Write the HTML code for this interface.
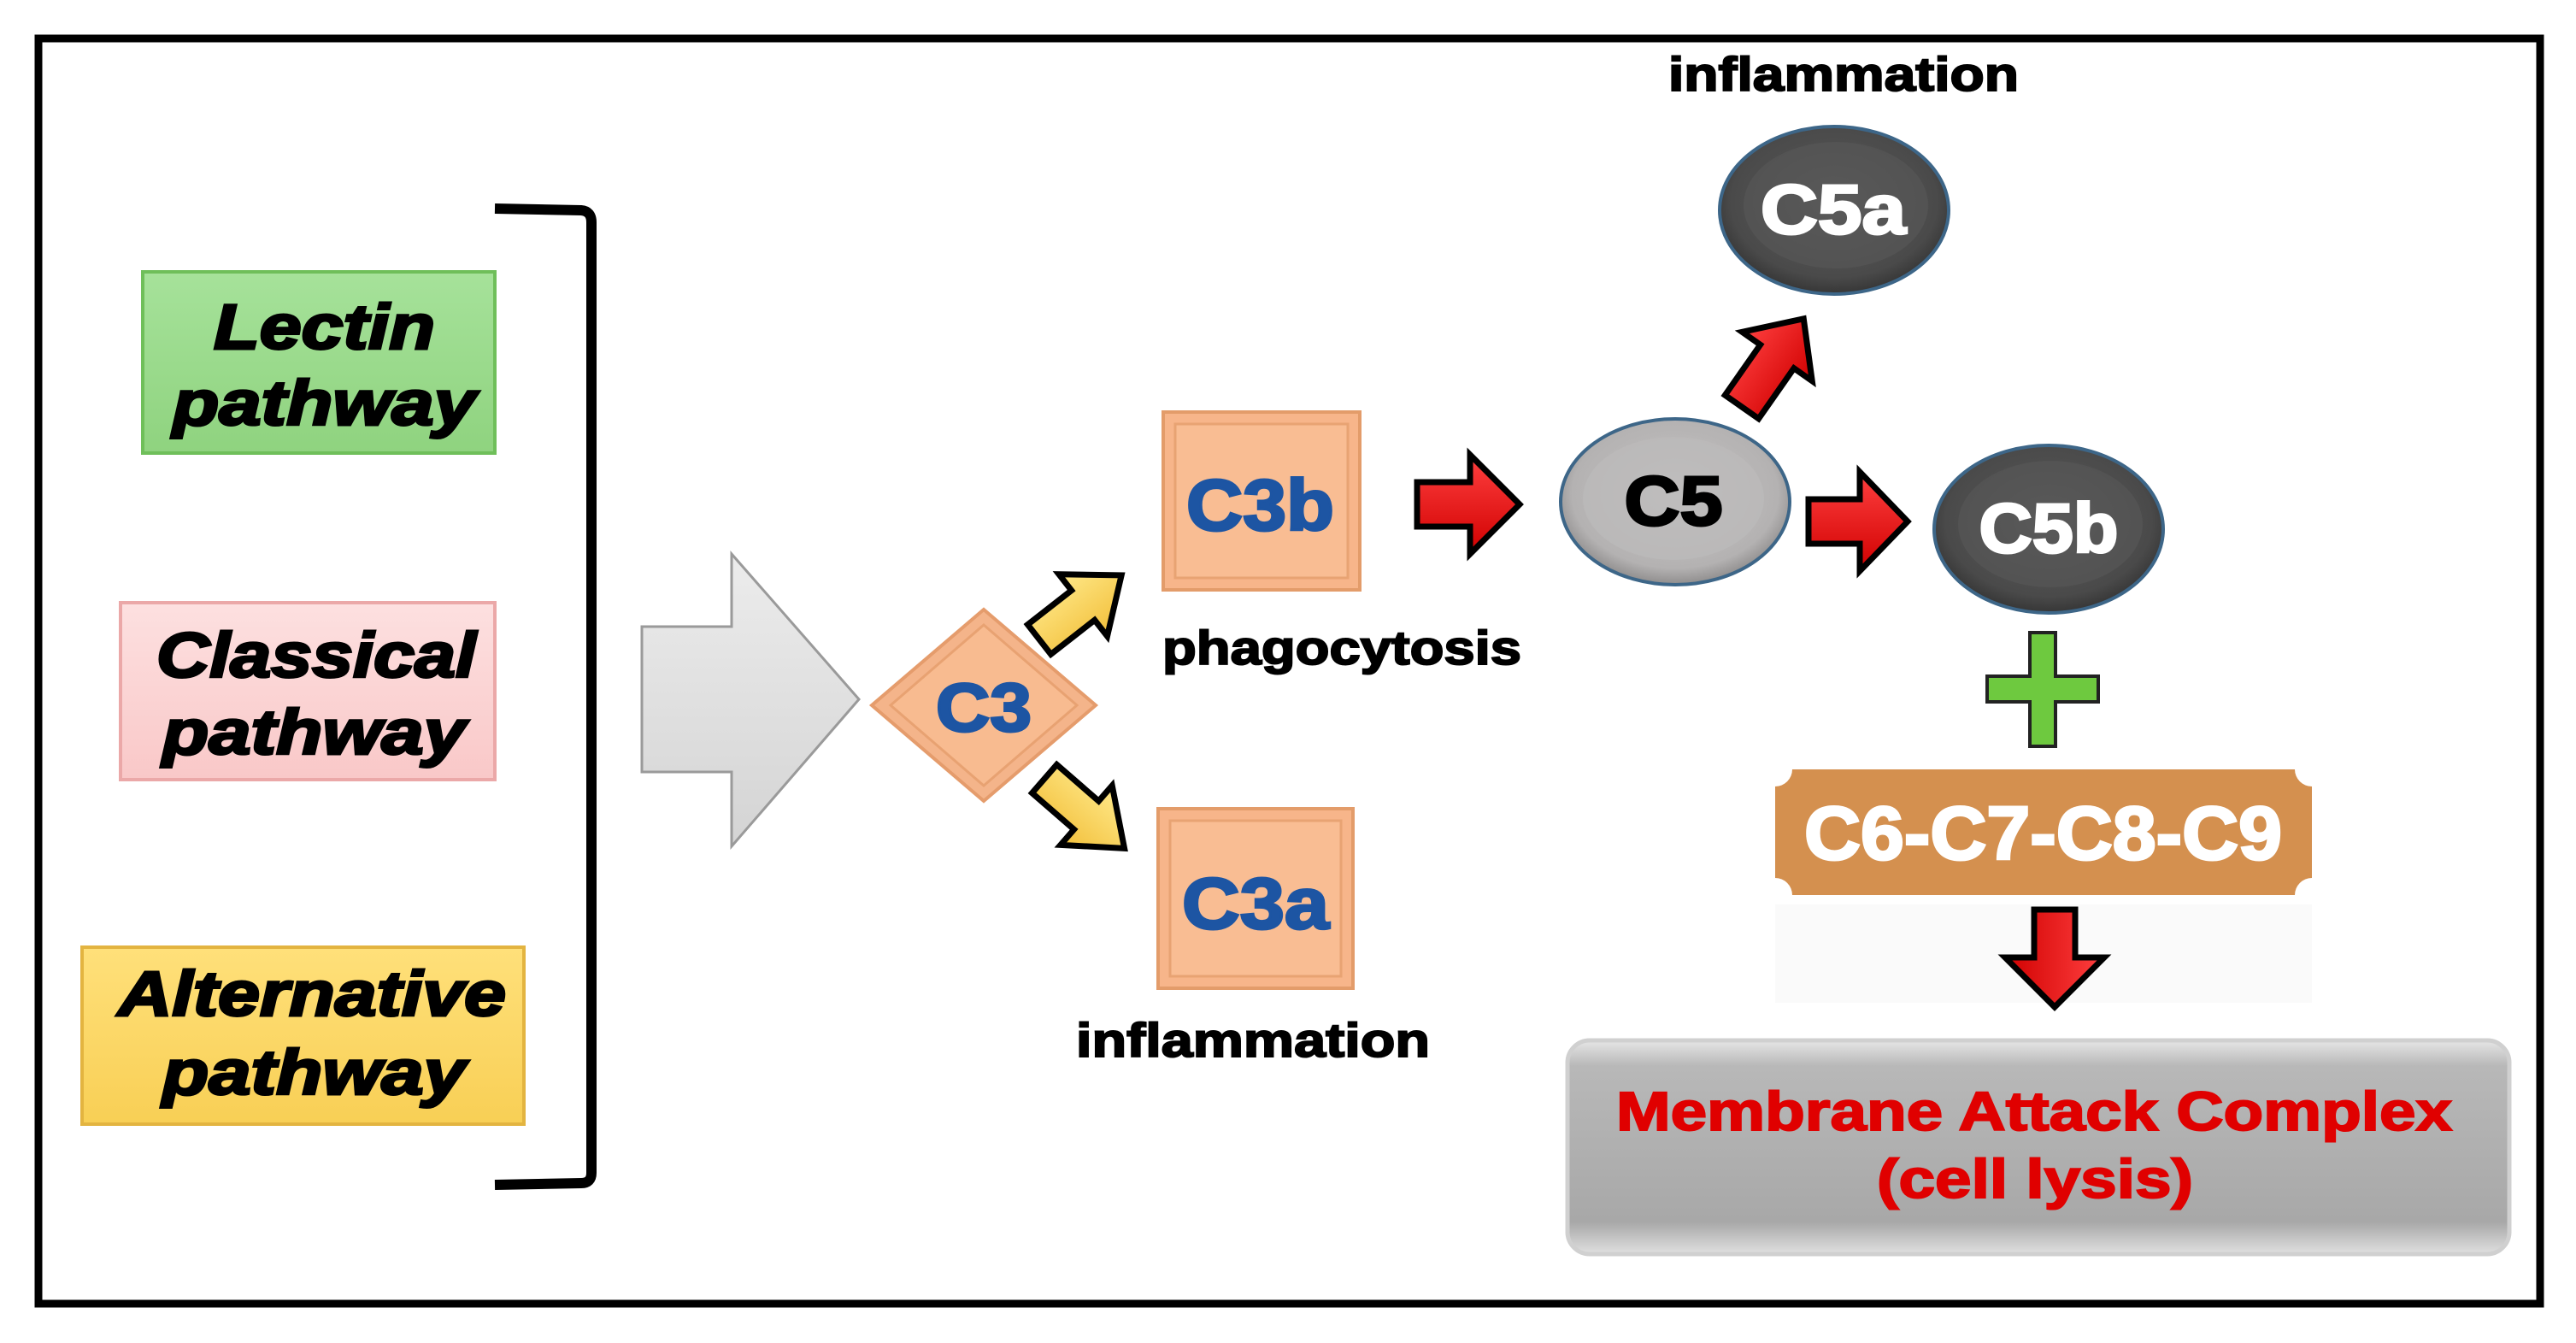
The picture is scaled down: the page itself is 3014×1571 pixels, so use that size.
<!DOCTYPE html>
<html><head><meta charset="utf-8"><style>
html,body{margin:0;padding:0;background:#fff}
svg{display:block}
text{font-family:"Liberation Sans",Arial,sans-serif;font-weight:bold}
</style></head><body>
<svg width="3014" height="1571" viewBox="0 0 3014 1571" xmlns="http://www.w3.org/2000/svg">
<defs>
<linearGradient id="gGreen" x1="0" y1="0" x2="0" y2="1"><stop offset="0" stop-color="#a6e29a"/><stop offset="1" stop-color="#8fd37f"/></linearGradient>
<linearGradient id="gPink" x1="0" y1="0" x2="0" y2="1"><stop offset="0" stop-color="#fde0e0"/><stop offset="1" stop-color="#f9c8c8"/></linearGradient>
<linearGradient id="gYel" x1="0" y1="0" x2="0" y2="1"><stop offset="0" stop-color="#ffe07a"/><stop offset="1" stop-color="#f8cf55"/></linearGradient>
<linearGradient id="gGrayArrow" x1="0" y1="0" x2="0" y2="1"><stop offset="0" stop-color="#ececec"/><stop offset="1" stop-color="#d4d4d4"/></linearGradient>
<linearGradient id="gMac" x1="0" y1="0" x2="0" y2="1"><stop offset="0" stop-color="#e6e6e6"/><stop offset="0.12" stop-color="#b8b8b8"/><stop offset="0.85" stop-color="#a8a8a8"/><stop offset="1" stop-color="#e0e0e0"/></linearGradient>
<radialGradient id="gDark" cx="0.5" cy="0.45" r="0.6"><stop offset="0" stop-color="#5a5a5a"/><stop offset="0.75" stop-color="#4a4a4a"/><stop offset="1" stop-color="#2c2c2c"/></radialGradient>
<radialGradient id="gLight" cx="0.5" cy="0.45" r="0.6"><stop offset="0" stop-color="#c4c2c2"/><stop offset="0.75" stop-color="#b4b2b2"/><stop offset="1" stop-color="#7c7a7a"/></radialGradient>
<linearGradient id="gRed" x1="0" y1="0" x2="0" y2="1"><stop offset="0" stop-color="#ff4040"/><stop offset="1" stop-color="#d00000"/></linearGradient>
<linearGradient id="gGold" x1="0" y1="0" x2="0" y2="1"><stop offset="0" stop-color="#ffe98a"/><stop offset="1" stop-color="#f2bf3a"/></linearGradient>
</defs>

<rect x="45" y="45" width="2927" height="1480" fill="#fff" stroke="#000" stroke-width="9"/>

<!-- pathway boxes -->
<rect x="167" y="318" width="412" height="212" fill="url(#gGreen)" stroke="#6fbf5a" stroke-width="4"/>
<g font-style="italic" font-size="74" stroke="#000" stroke-width="3">
<text x="250" y="408" textLength="259" lengthAdjust="spacingAndGlyphs">Lectin</text>
<text x="202" y="497" textLength="355" lengthAdjust="spacingAndGlyphs">pathway</text>
</g>

<rect x="141" y="705" width="438" height="207" fill="url(#gPink)" stroke="#eba8a8" stroke-width="4"/>
<g font-style="italic" font-size="74" stroke="#000" stroke-width="3">
<text x="183" y="792" textLength="374" lengthAdjust="spacingAndGlyphs">Classical</text>
<text x="190" y="882" textLength="355" lengthAdjust="spacingAndGlyphs">pathway</text>
</g>

<rect x="96" y="1108" width="517" height="207" fill="url(#gYel)" stroke="#e3b440" stroke-width="4"/>
<g font-style="italic" font-size="74" stroke="#000" stroke-width="3">
<text x="138" y="1188" textLength="454" lengthAdjust="spacingAndGlyphs">Alternative</text>
<text x="190" y="1280" textLength="355" lengthAdjust="spacingAndGlyphs">pathway</text>
</g>

<!-- bracket -->
<path d="M579 244 L680 246 Q692 247 692 260 L692 1372 Q692 1384 680 1384 L579 1386" fill="none" stroke="#000" stroke-width="12"/>

<!-- big gray arrow -->
<polygon points="751,733 856,733 856,648 1005,818 856,990 856,903 751,903" fill="url(#gGrayArrow)" stroke="#9a9a9a" stroke-width="3"/>

<!-- C3 diamond -->
<polygon points="1151,713 1282,825 1151,937 1020,825" fill="#f4b48a" stroke="#e59c6c" stroke-width="4"/>
<polygon points="1151,731 1260,825 1151,919 1042,825" fill="#f8bb90" stroke="#e8a272" stroke-width="3"/>
<text x="1151" y="855" font-size="80" fill="#1d55a3" stroke="#1d55a3" stroke-width="3" text-anchor="middle" textLength="112" lengthAdjust="spacingAndGlyphs">C3</text>

<!-- yellow arrows -->
<g transform="translate(1216,748) rotate(-38)">
<polygon points="0,-22 65,-22 65,-46 122,0 65,46 65,22 0,22" fill="url(#gGold)" stroke="#000" stroke-width="7"/>
</g>
<g transform="translate(1222,911) rotate(41)">
<polygon points="0,-22 65,-22 65,-46 124,0 65,46 65,22 0,22" fill="url(#gGold)" stroke="#000" stroke-width="7"/>
</g>

<!-- C3b, C3a -->
<rect x="1361" y="482" width="230" height="208" fill="#f7b58a" stroke="#e39c6a" stroke-width="4"/>
<rect x="1375" y="496" width="202" height="180" fill="#f9bd93" stroke="#e8a373" stroke-width="3"/>
<text x="1388" y="620" font-size="84" fill="#1d55a3" stroke="#1d55a3" stroke-width="3" textLength="173" lengthAdjust="spacingAndGlyphs">C3b</text>

<rect x="1355" y="946" width="228" height="210" fill="#f7b58a" stroke="#e39c6a" stroke-width="4"/>
<rect x="1369" y="960" width="200" height="182" fill="#f9bd93" stroke="#e8a373" stroke-width="3"/>
<text x="1383" y="1086" font-size="84" fill="#1d55a3" stroke="#1d55a3" stroke-width="3" textLength="172" lengthAdjust="spacingAndGlyphs">C3a</text>

<g font-size="56" stroke="#000" stroke-width="2">
<text x="1360" y="777" textLength="420" lengthAdjust="spacingAndGlyphs">phagocytosis</text>
<text x="1259" y="1236" textLength="414" lengthAdjust="spacingAndGlyphs">inflammation</text>
<text x="1952" y="106" textLength="410" lengthAdjust="spacingAndGlyphs">inflammation</text>
</g>

<!-- red arrows -->
<g transform="translate(1658,590)">
<polygon points="0,-26 62,-26 62,-58 120,0 62,58 62,26 0,26" fill="url(#gRed)" stroke="#000" stroke-width="7"/>
</g>
<g transform="translate(2116,610)">
<polygon points="0,-26 60,-26 60,-58 116,0 60,58 60,26 0,26" fill="url(#gRed)" stroke="#000" stroke-width="7"/>
</g>
<g transform="translate(2038,476) rotate(-55)">
<polygon points="0,-24 72,-24 72,-50 126,0 72,50 72,24 0,24" fill="url(#gRed)" stroke="#000" stroke-width="7"/>
</g>

<!-- C5 ellipses -->
<ellipse cx="1960" cy="587" rx="134" ry="97" fill="url(#gLight)" stroke="#3d6688" stroke-width="4"/>
<ellipse cx="1958" cy="583" rx="106" ry="72" fill="#bcbaba" opacity="0.7"/>
<text x="1958" y="614" font-size="82" fill="#000" stroke="#000" stroke-width="3" text-anchor="middle" textLength="115" lengthAdjust="spacingAndGlyphs">C5</text>

<ellipse cx="2146" cy="246" rx="134" ry="98" fill="url(#gDark)" stroke="#3d6688" stroke-width="4"/>
<ellipse cx="2148" cy="240" rx="108" ry="74" fill="#595959" opacity="0.6"/>
<text x="2145" y="273" font-size="82" fill="#fff" stroke="#fff" stroke-width="3" text-anchor="middle" textLength="170" lengthAdjust="spacingAndGlyphs">C5a</text>

<ellipse cx="2397" cy="619" rx="134" ry="98" fill="url(#gDark)" stroke="#3d6688" stroke-width="4"/>
<ellipse cx="2399" cy="613" rx="108" ry="74" fill="#595959" opacity="0.6"/>
<text x="2397" y="646" font-size="82" fill="#fff" stroke="#fff" stroke-width="3" text-anchor="middle" textLength="163" lengthAdjust="spacingAndGlyphs">C5b</text>

<!-- plus -->
<polygon points="2375,740 2405,740 2405,791 2455,791 2455,821 2405,821 2405,873 2375,873 2375,821 2325,821 2325,791 2375,791" fill="#6ec93f" stroke="#222" stroke-width="4"/>

<!-- C6-C9 -->
<path d="M2097,900 L2685,900 A20,20 0 0 0 2705,920 L2705,1027 A20,20 0 0 0 2685,1047 L2097,1047 A20,20 0 0 0 2077,1027 L2077,920 A20,20 0 0 0 2097,900 Z" fill="#d4904f"/>
<rect x="2077" y="1058" width="628" height="115" fill="#fafafa"/>
<text x="2111" y="1005" font-size="88" fill="#fff" stroke="#fff" stroke-width="3" textLength="559" lengthAdjust="spacingAndGlyphs">C6-C7-C8-C9</text>

<!-- down arrow -->
<g transform="translate(2404,1064) rotate(90)">
<polygon points="0,-24 56,-24 56,-58 114,0 56,58 56,24 0,24" fill="url(#gRed)" stroke="#000" stroke-width="7"/>
</g>

<!-- MAC -->
<rect x="1834" y="1217" width="1102" height="250" rx="26" fill="url(#gMac)" stroke="#d0d0d0" stroke-width="5"/>
<g font-size="64" fill="#e00000" stroke="#e00000" stroke-width="2">
<text x="1891" y="1322" textLength="978" lengthAdjust="spacingAndGlyphs">Membrane Attack Complex</text>
<text x="2196" y="1401" textLength="370" lengthAdjust="spacingAndGlyphs">(cell lysis)</text>
</g>
</svg>
</body></html>
